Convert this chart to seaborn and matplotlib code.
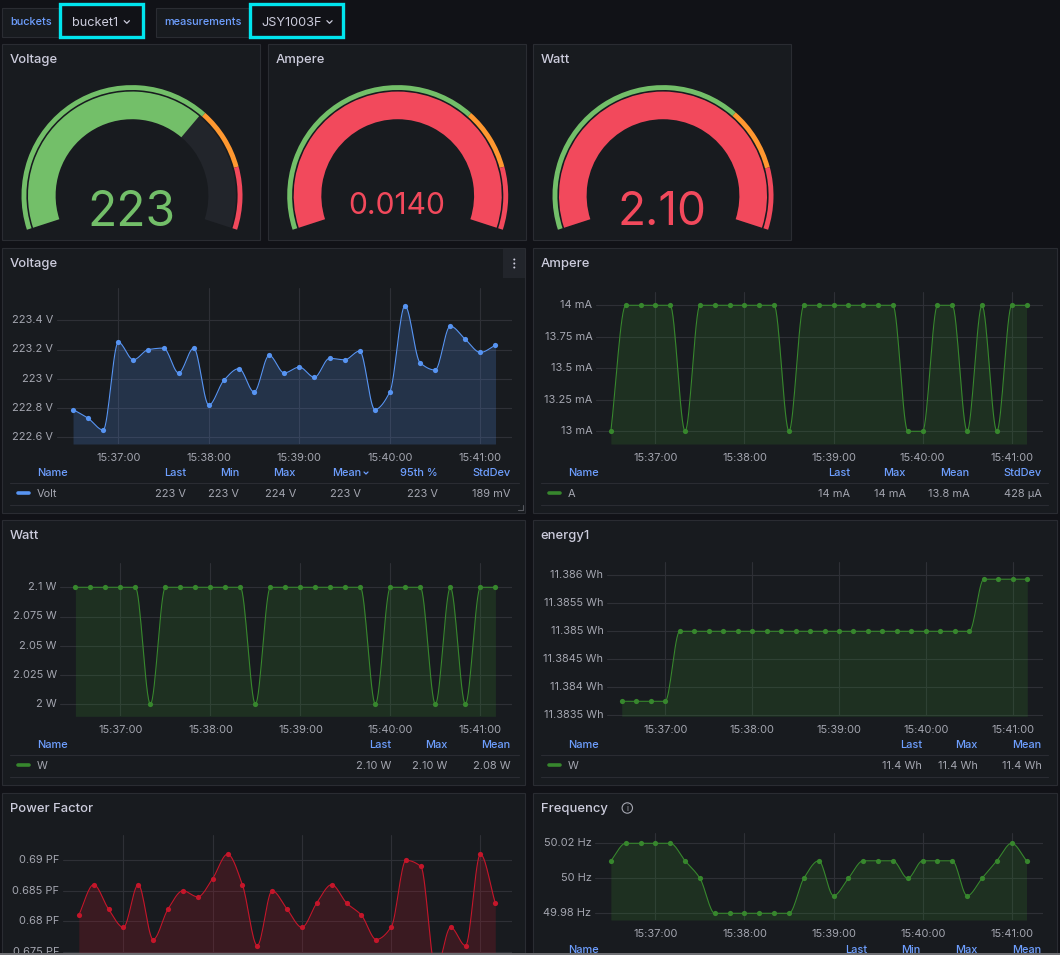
import numpy as np
import matplotlib
matplotlib.use("Agg")
import matplotlib.pyplot as plt
from matplotlib.patches import Rectangle, Wedge, Circle
from matplotlib.ticker import FuncFormatter
from matplotlib.transforms import ScaledTranslation
import seaborn as sns

sns.set_theme(style="dark")
plt.rcParams['font.family'] = ['Inter', 'DejaVu Sans']

# ---------- data ----------
seconds = [56190, 56200, 56210, 56220, 56230, 56240, 56250, 56260, 56270, 56280,
           56290, 56300, 56310, 56320, 56330, 56340, 56350, 56360, 56370, 56380,
           56390, 56400, 56410, 56420, 56430, 56440, 56450, 56460, 56470]
tick_seconds = [56220, 56280, 56340, 56400, 56460]

volt = [222.79, 222.73, 222.65, 223.25, 223.13, 223.20, 223.21, 223.04, 223.21, 222.82,
        222.99, 223.07, 222.91, 223.16, 223.04, 223.08, 223.01, 223.14, 223.13, 223.19,
        222.79, 222.91, 223.50, 223.11, 223.06, 223.36, 223.27, 223.18, 223.23]
ampere = [13, 14, 14, 14, 14, 13, 14, 14, 14, 14, 14, 14, 13, 14, 14, 14, 14, 14, 14, 14,
          13, 13, 14, 14, 13, 14, 13, 14, 14]
watt = [2.1, 2.1, 2.1, 2.1, 2.1, 2.0, 2.1, 2.1, 2.1, 2.1, 2.1, 2.1, 2.0, 2.1, 2.1, 2.1, 2.1,
        2.1, 2.1, 2.1, 2.0, 2.1, 2.1, 2.1, 2.0, 2.1, 2.0, 2.1, 2.1]
energy = [11.38375, 11.38375, 11.38375, 11.38375, 11.385, 11.385, 11.385, 11.385, 11.385, 11.385,
          11.385, 11.385, 11.385, 11.385, 11.385, 11.385, 11.385, 11.385, 11.385, 11.385,
          11.385, 11.385, 11.385, 11.385, 11.385, 11.38593, 11.38593, 11.38593, 11.38593]
power_factor = [0.681, 0.686, 0.682, 0.679, 0.686, 0.677, 0.682, 0.685, 0.684, 0.687,
                0.691, 0.686, 0.676, 0.685, 0.682, 0.679, 0.683, 0.686, 0.683, 0.681,
                0.677, 0.679, 0.690, 0.689, 0.672, 0.679, 0.676, 0.691, 0.683]
frequency = [50.01, 50.02, 50.02, 50.02, 50.02, 50.01, 50.00, 49.98, 49.98, 49.98,
             49.98, 49.98, 49.98, 50.00, 50.01, 49.99, 50.00, 50.01, 50.01, 50.01,
             50.00, 50.01, 50.01, 50.01, 49.99, 50.00, 50.01, 50.02, 50.01]

volt_ticks = [222.6, 222.8, 223.0, 223.2, 223.4]
volt_labels = ["222.6 V", "222.8 V", "223 V", "223.2 V", "223.4 V"]
amp_ticks = [13, 13.25, 13.5, 13.75, 14]
amp_labels = ["13 mA", "13.25 mA", "13.5 mA", "13.75 mA", "14 mA"]
watt_ticks = [2.0, 2.025, 2.05, 2.075, 2.1]
watt_labels = ["2 W", "2.025 W", "2.05 W", "2.075 W", "2.1 W"]
energy_ticks = [11.3835, 11.384, 11.3845, 11.385, 11.3855, 11.386]
energy_labels = ["11.3835 Wh", "11.384 Wh", "11.3845 Wh", "11.385 Wh", "11.3855 Wh", "11.386 Wh"]
pf_ticks = [0.675, 0.68, 0.685, 0.69]
pf_labels = ["0.675 PF", "0.68 PF", "0.685 PF", "0.69 PF"]
freq_ticks = [49.98, 50.0, 50.02]
freq_labels = ["49.98 Hz", "50 Hz", "50.02 Hz"]

gauge_titles = ["Voltage", "Ampere", "Watt"]
gauge_values = [223, 0.0140, 2.10]
gauge_texts = ["223", "0.0140", "2.10"]
gauge_max = [325, 0.014, 2.1]
gauge_orange = [225, 0.0097, 1.45]
gauge_red = [275, 0.01185, 1.78]

# ---------- palette ----------
CANVAS = "#111217"
PANEL = "#181b1f"
BORDER = "#2a2c32"
TEXT = "#ccccdc"
MUTED = "#a4a6b0"
LINK = "#6e9fff"
GRID = "#2e3036"
TRACK = "#22252b"
CYAN = "#00e5ee"
G_GREEN = "#73bf69"
G_ORANGE = "#ff9830"
G_RED = "#f2495c"
BLUE = "#5794f2"
GREEN = "#37872d"
RED = "#c4162a"

W, H = 1060, 955
SMALL = 11.0
fig = plt.figure(figsize=(W / 100, H / 100), dpi=100, facecolor=CANVAS)
bg = fig.add_axes([0, 0, 1, 1], zorder=0)
bg.set_xlim(0, W)
bg.set_ylim(H, 0)
bg.axis("off")


def px(size):
    return size * 0.72


def label(x, y, s, size=SMALL, color=TEXT, ha="left", weight="normal", z=5):
    bg.text(x, y + size * 0.08, s, fontsize=px(size), color=color, ha=ha, va="center",
            fontweight=weight, zorder=z)


def panel(x0, y0, x1, y1, title):
    bg.add_patch(Rectangle((x0, y0), x1 - x0, y1 - y0, facecolor=PANEL,
                           edgecolor=BORDER, linewidth=0.8, zorder=1))
    label(x0 + 7.8, y0 + 15, title, size=13, color=TEXT, weight="medium")


def chevron(x, y, size=2.6, color=TEXT):
    bg.plot([x - size, x, x + size], [y - size * 0.5, y + size * 0.5, y - size * 0.5],
            color=color, lw=0.9, zorder=6, solid_capstyle="round")


def monotone_curve(t, v, per_segment=16):
    """Monotone cubic drawing of the series, the way the dashboard renders it."""
    t = np.asarray(t, float)
    v = np.asarray(v, float)
    h = np.diff(t)
    d = np.diff(v) / h
    m = np.zeros_like(v)
    m[0], m[-1] = d[0], d[-1]
    for i in range(1, len(v) - 1):
        if d[i - 1] * d[i] > 0:
            w1, w2 = 2 * h[i] + h[i - 1], h[i] + 2 * h[i - 1]
            m[i] = (w1 + w2) / (w1 / d[i - 1] + w2 / d[i])
    xs, ys = [], []
    for i in range(len(h)):
        u = np.linspace(0, 1, per_segment, endpoint=False)
        a = 2 * u**3 - 3 * u**2 + 1
        b = u**3 - 2 * u**2 + u
        c = -2 * u**3 + 3 * u**2
        e = u**3 - u**2
        xs.append(t[i] + u * h[i])
        ys.append(a * v[i] + b * h[i] * m[i] + c * v[i + 1] + e * h[i] * m[i + 1])
    return np.append(np.concatenate(xs), t[-1]), np.append(np.concatenate(ys), v[-1])


def fmt_time(val, _):
    val = int(round(val))
    return f"{val // 3600:02d}:{val % 3600 // 60:02d}:{val % 60:02d}"


def series_axes(box, x_anchor, y_anchor, values, ticks, tick_labels, color, show_x=True):
    """box = L,R,T,B pixels; anchors tie tick values to pixel positions."""
    L, R, T, B = box
    ax = fig.add_axes([L / W, 1 - B / H, (R - L) / W, (B - T) / H], zorder=2)
    ax.patch.set_alpha(0)
    for sp in ax.spines.values():
        sp.set_visible(False)
    (p37, p41) = x_anchor
    sx = (tick_seconds[-1] - tick_seconds[0]) / (p41 - p37)
    xlim = (tick_seconds[0] + (L - p37) * sx, tick_seconds[0] + (R - p37) * sx)
    (v1, y1), (v2, y2) = y_anchor
    sy = (v2 - v1) / (y2 - y1)
    ylim = (v1 + (B - y1) * sy, v1 + (T - y1) * sy)
    cx, cy = monotone_curve(seconds, values)
    ax.fill_between(cx, ylim[0], cy, color=color, alpha=0.2, linewidth=0, zorder=2)
    sns.lineplot(x=cx, y=cy, ax=ax, color=color, linewidth=0.8, estimator=None,
                 sort=False, errorbar=None, zorder=3)
    sns.scatterplot(x=seconds, y=values, ax=ax, color=color, s=14, linewidth=0, zorder=4)
    ax.set_xlim(*xlim)
    ax.set_ylim(*ylim)
    ax.set_xlabel("")
    ax.set_ylabel("")
    ax.set_xticks(tick_seconds)
    ax.xaxis.set_major_formatter(FuncFormatter(fmt_time))
    ax.set_yticks(ticks)
    ax.set_yticklabels(tick_labels)
    ax.grid(True, color=GRID, linewidth=0.8, zorder=0)
    ax.set_axisbelow(True)
    ax.tick_params(axis="x", length=0, pad=6.2, labelsize=px(SMALL), labelcolor=MUTED,
                   labelbottom=show_x)
    ax.tick_params(axis="y", length=0, pad=2.6, labelsize=px(SMALL), labelcolor=MUTED)
    lift = ScaledTranslation(0, 0.8 / 72, fig.dpi_scale_trans)
    for lab in ax.get_yticklabels():
        lab.set_transform(lab.get_transform() + lift)
    return ax


def legend(x0, x1, head_y, row_y, name_x, swatch, color, series, columns):
    line1, line2 = head_y + 11, row_y + 11.5
    bg.plot([x0, x1], [line1, line1], color=BORDER, lw=0.8, zorder=3)
    if row_y < H:
        bg.plot([x0, x1], [line2, line2], color=BORDER, lw=0.8, zorder=3)
    label(name_x, head_y, "Name", color=LINK, weight="medium")
    if row_y < H:
        bg.plot(swatch, [row_y, row_y], color=color, lw=2.6, zorder=4, solid_capstyle="round")
        label(name_x, row_y, series, color=MUTED)
    for right, head, val in columns:
        label(right, head_y, head, color=LINK, ha="right", weight="medium")
        if row_y < H:
            label(right, row_y, val, color=MUTED, ha="right")


def arc(cx, cy, r_out, r_in, a_start, a_end, color, z=3):
    """Angles are screen angles in degrees, a_start > a_end, clockwise sweep."""
    bg.add_patch(Wedge((cx, cy), r_out, -a_start, -a_end, width=r_out - r_in,
                       facecolor=color, edgecolor="none", zorder=z))


def gauge(cx, cy, idx):
    a0, sweep = 198.0, 216.0
    to_angle = lambda v: a0 - sweep * min(v / gauge_max[idx], 1.0)
    val_a = to_angle(gauge_values[idx])
    color = G_GREEN
    if gauge_values[idx] >= gauge_red[idx]:
        color = G_RED
    elif gauge_values[idx] >= gauge_orange[idx]:
        color = G_ORANGE
    ao, ar = to_angle(gauge_orange[idx]), to_angle(gauge_red[idx])
    arc(cx, cy, 110.5, 105.6, a0, ao, G_GREEN)
    arc(cx, cy, 110.5, 105.6, ao, ar, G_ORANGE)
    arc(cx, cy, 110.5, 105.6, ar, a0 - sweep, G_RED)
    arc(cx, cy, 104.0, 76.4, a0, a0 - sweep, TRACK)
    arc(cx, cy, 104.0, 76.4, a0, val_a, color, z=4)
    sizes = [48, 30, 46]
    ys = [209, 204, 209]
    label(cx - 1, ys[idx], gauge_texts[idx], size=sizes[idx], color=color, ha="center", z=6)


# ---------- top bar ----------
for x0, x1, txt, in [(2, 59, "buckets"), (155.5, 249, "measurements")]:
    bg.add_patch(Rectangle((x0, 8.5), x1 - x0, 28.5, facecolor=PANEL, edgecolor=BORDER,
                           linewidth=0.8, zorder=1))
    label(x0 + 8.3, 21.5, txt, size=10.9, color=LINK, weight="medium")
for x0, x1, txt, cv, tx in [(60, 143.3, "bucket1", 126.8, 72), (250, 343.3, "JSY1003F", 329.5, 261)]:
    bg.add_patch(Rectangle((x0, 4.2), x1 - x0, 33, facecolor=CANVAS, edgecolor=CYAN,
                           linewidth=2.4, zorder=2))
    label(tx, 21.5, txt, size=12.7, color=TEXT)
    chevron(cv, 22)

# ---------- gauges ----------
for i, (x0, x1, cx) in enumerate([(2, 260, 132), (268, 525.5, 397.7), (533, 791, 663)]):
    panel(x0, 44, x1, 240, gauge_titles[i])
    gauge(cx, 195.6, i)

# ---------- time series panels ----------
panel(2, 248, 525, 512.5, "Voltage")
panel(533, 248, 1056.5, 512.5, "Ampere")
panel(2, 520, 525, 784.5, "Watt")
panel(533, 520, 1056.5, 784.5, "energy1")
panel(2, 793, 525, 960, "Power Factor")
panel(533, 793, 1056.5, 960, "Frequency")

series_axes((57, 512, 288, 444), (118.3, 480.4), ((222.6, 437.3), (223.4, 320.3)),
            volt, volt_ticks, volt_labels, BLUE)
series_axes((596, 1043, 292, 444), (655.4, 1011.7), ((13, 431.3), (14, 305.3)),
            ampere, amp_ticks, amp_labels, GREEN)
series_axes((60.4, 512, 563, 716.3), (120.4, 480.4), ((2.0, 704.3), (2.1, 587.3)),
            watt, watt_ticks, watt_labels, GREEN)
series_axes((607, 1043, 561.7, 716.3), (665.2, 1012.8), ((11.3835, 715.3), (11.386, 575.3)),
            energy, energy_ticks, energy_labels, GREEN)
series_axes((63, 512, 835, 953.3), (123.4, 480.4), ((0.675, 951.7), (0.69, 860.3)),
            power_factor, pf_ticks, pf_labels, RED, show_x=False)
series_axes((595, 1043, 833.3, 920), (655.4, 1011.7), ((49.98, 913.3), (50.02, 843.3)),
            frequency, freq_ticks, freq_labels, GREEN)

# ---------- legends ----------
legend(9.5, 519, 472.3, 493.3, 37, (18, 29), BLUE, "Volt",
       [(186, "Last", "223 V"), (239.4, "Min", "223 V"), (296, "Max", "224 V"),
        (361, "Mean", "223 V"), (438, "95th %", "223 V"), (510.5, "StdDev", "189 mV")])
chevron(366, 473, size=2, color=LINK)
legend(541, 1048, 472.3, 493.3, 568, (549, 560), GREEN, "A",
       [(850, "Last", "14 mA"), (906, "Max", "14 mA"), (969.5, "Mean", "13.8 mA"),
        (1041.5, "StdDev", "428 µA")])
legend(9.5, 519, 744, 765, 37, (18, 29), GREEN, "W",
       [(391, "Last", "2.10 W"), (447, "Max", "2.10 W"), (510.5, "Mean", "2.08 W")])
legend(541, 1048, 744, 765, 568, (549, 560), GREEN, "W",
       [(922, "Last", "11.4 Wh"), (978, "Max", "11.4 Wh"), (1041.5, "Mean", "11.4 Wh")])
legend(541, 1048, 949, 2000, 568, (549, 560), GREEN, "",
       [(867, "Last", ""), (920.5, "Min", ""), (978, "Max", ""), (1041.5, "Mean", "")])

# ---------- small furniture ----------
bg.add_patch(Rectangle((503, 249), 22, 29, facecolor=TRACK, edgecolor="none", zorder=3))
for dy in (-4, 0, 4):
    bg.add_patch(Circle((514.3, 263.5 + dy), 1.0, facecolor=TEXT, edgecolor="none", zorder=4))
bg.plot([518, 523, 523], [510, 510, 505], color="#55575e", lw=0.8, zorder=3)
bg.add_patch(Circle((627.3, 808), 5.2, facecolor="none", edgecolor=MUTED, lw=0.8, zorder=4))
label(627.3, 807.5, "i", size=8, color=MUTED, ha="center")
fig.add_artist(Rectangle((0, 0), 1, 1.7 / H, transform=fig.transFigure, facecolor="#6f7074",
                         edgecolor="none", zorder=10))

fig.savefig("out.png", dpi=100, facecolor=CANVAS)
